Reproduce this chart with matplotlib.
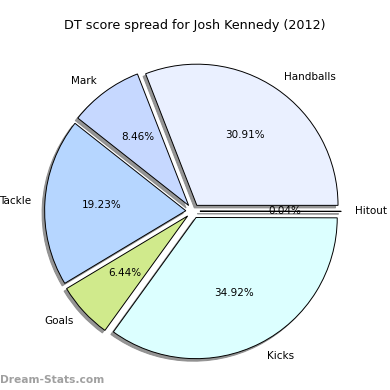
import matplotlib
matplotlib.use("Agg")
import matplotlib.pyplot as plt

labels = ["Handballs", "Mark", "Tackle", "Goals", "Kicks", "Hitout"]
shares = [30.91, 8.46, 19.23, 6.44, 34.92, 0.04]
colors = ["#eaf0ff", "#c6d8ff", "#b6d6ff", "#d0ea8c", "#dcffff", "#ffffff"]
explode = [0.05] * len(labels)

fig = plt.figure(figsize=(3.9, 3.9), dpi=100)
ax = fig.add_axes([0.042, 0.006, 0.905, 0.905])

wedges, texts, autotexts = ax.pie(
    shares, labels=labels, colors=colors, explode=explode,
    autopct="%1.2f%%", startangle=0, counterclock=True,
    shadow={"ox": -0.013, "oy": -0.013, "facecolor": "#8a8a8a",
            "edgecolor": "#8a8a8a", "alpha": 0.9},
    wedgeprops={"edgecolor": "black", "linewidth": 0.7},
    textprops={"fontsize": 7.5},
)
ax.set_aspect("equal")

fig.text(0.5, 0.935, "DT score spread for Josh Kennedy (2012)",
         ha="center", va="center", fontsize=9.2)
fig.text(0.0, 0.025, "Dream-Stats.com", ha="left", va="center",
         fontsize=7.7, color="#a0a0a0", fontweight="bold")

fig.savefig("out.png", dpi=100)
